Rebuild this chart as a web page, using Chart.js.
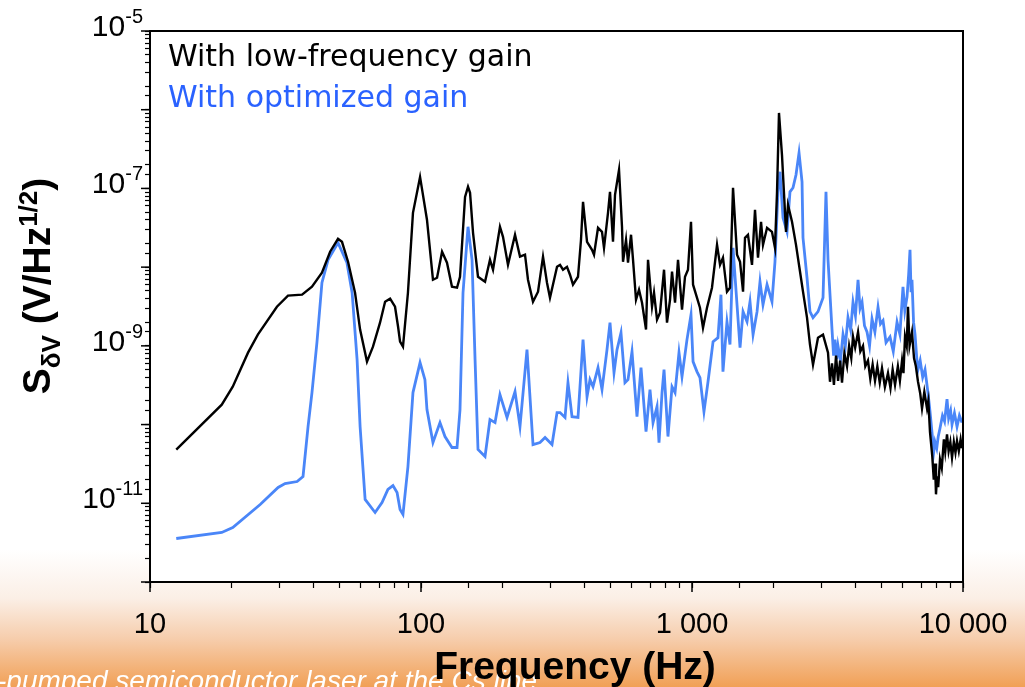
<!DOCTYPE html>
<html>
<head>
<meta charset="utf-8">
<script src="https://cdn.jsdelivr.net/npm/chart.js@4.4.1/dist/chart.umd.min.js"></script>
<style>
  html, body { margin: 0; padding: 0; background: #fff; }
  #wrap { width: 1025px; height: 687px; position: relative; overflow: hidden; }
  canvas { display: block; }
</style>
</head>
<body>
<div id="wrap"><canvas id="c" width="1025" height="687"></canvas></div>
<script>
// ---------------- DATA ----------------
const seriesLabels = ['With low-frequency gain', 'With optimized gain'];
const xTickValues = [10, 100, 1000, 10000];
const xTickLabels = ['10', '100', '1 000', '10 000'];
const yTickValues = [1e-5, 1e-7, 1e-9, 1e-11];
const yTickBase = '10';
const yTickExponents = ['-5', '-7', '-9', '-11'];
const xTitle = 'Frequency (Hz)';
const yTitleParts = ['S', '\u03B4V', ' (V/Hz', '1/2', ')'];
const footerText = '-pumped semiconductor laser at the Cs line';

// [frequency (Hz), S (V/Hz^1/2)]
const lowGainSeries = [
 [12.5,4.8e-11],[18.4,1.79e-10],[20.2,3.03e-10],[23.0,8.2e-10],[25.0,1.39e-9],[29.4,3.14e-9],[32.3,4.34e-9],
 [36.4,4.47e-9],[39.6,5.64e-9],[43.1,8.49e-9],[46.2,1.57e-8],[49.4,2.29e-8],[51.1,2.10e-8],[53.8,1.17e-8],
 [57.1,4.73e-9],[59.6,1.61e-9],[63.2,6.31e-10],[66.5,9.77e-10],[70.6,1.97e-9],[73.7,3.64e-9],[76.9,3.97e-9],
 [80.2,3.14e-9],[82.3,1.75e-9],[83.7,1.13e-9],[85.8,9.77e-10],[89.5,4.73e-9],[93.4,4.90e-8],[99.2,1.40e-7],
 [105.2,4.0e-8],[110.7,6.92e-9],[114.6,7.33e-9],[119.6,1.57e-8],[124.7,1.14e-8],[130.1,5.64e-9],[135.8,5.48e-9],
 [139.3,7.55e-9],[145.4,7.82e-8],[149.1,1.05e-7],[151.7,8.79e-8],[155.6,2.73e-8],[162.3,7.55e-9],[172.3,6.53e-9],
 [179.7,1.24e-8],[184.4,9.27e-9],[195.6,3.26e-8],[200.7,2.43e-8],[209.4,1.07e-8],[222.3,2.58e-8],[231.9,1.36e-8],
 [242.0,1.44e-8],[248.2,6.92e-9],[259.0,3.64e-9],[270.3,4.88e-9],[282.0,1.36e-8],[291.7,6.34e-9],[299.2,4.09e-9],
 [317.7,1.01e-8],[325.9,1.07e-8],[334.2,9.27e-9],[345.7,1.01e-8],[354.6,8.01e-9],[363.8,5.98e-9],[379.6,7.55e-9],
 [389.4,2.23e-8],[396.2,6.76e-8],[409.9,2.10e-8],[427.6,1.66e-8],[434.9,1.44e-8],[450,3.16e-8],[465.5,2.81e-8],
 [473.5,1.76e-8],[489.8,4.90e-8],[498.2,9.06e-8],[511.1,2.10e-8],[519.9,8.30e-8],[537.9,1.72e-7],[551.7,3.26e-8],
 [556.5,1.17e-8],[570.9,2.23e-8],[580.6,1.14e-8],[595.7,2.58e-8],[605.9,1.24e-8],[621.5,3.85e-9],[637.5,5.16e-9],
 [654,3.53e-9],[676.6,1.61e-9],[688.2,1.24e-8],[712,3.14e-9],[724.2,4.73e-9],[742.9,2.15e-9],[762.1,2.64e-9],
 [788.5,9.27e-9],[808.7,1.97e-9],[829.7,3.85e-9],[843.9,8.75e-9],[865.8,3.53e-9],[888,1.24e-8],[918.6,2.88e-9],
 [942.3,7.55e-9],[966.5,9.27e-9],[991.5,3.77e-8],[1009,5.98e-9],[1043,4.09e-9],[1070,3.05e-9],[1098,1.70e-9],
 [1136,3.05e-9],[1185,5.48e-9],[1237,1.92e-8],[1269,1.07e-8],[1301,1.32e-8],[1346,4.88e-9],[1381,5.48e-9],
 [1417,1.02e-7],[1466,1.44e-8],[1504,1.17e-8],[1543,4.88e-9],[1569,2.36e-8],[1609,2.58e-8],[1665,1.07e-8],
 [1708,5.35e-8],[1752,1.32e-8],[1798,3.77e-8],[1828,1.92e-8],[1892,3.16e-8],[1973,2.81e-8],[2024,1.76e-8],
 [2059,8.79e-8],[2094,9.1e-7],[2148,2.67e-7],[2167,1.49e-7],[2223,2.81e-8],[2261,6.19e-8],[2339,3.77e-8],
 [2420,1.92e-8],[2504,8.75e-9],[2568,4.88e-9],[2657,2.28e-9],[2725,1.04e-9],[2796,5.77e-10],[2917,1.27e-9],
 [3044,1.39e-9],[3176,8.2e-10],[3230,3.5e-10],[3286,6.0e-10],[3340,3.2e-10],[3400,7.5e-10],[3460,3.6e-10],
 [3520,6.5e-10],[3577,3.4e-10],[3650,8.0e-10],[3733,5.5e-10],[3800,1.0e-9],[3870,7.0e-10],[3928,1.31e-9],
 [4000,9.5e-10],[4099,1.5e-9],[4180,8.5e-10],[4276,1.0e-9],[4360,5.5e-10],[4460,6.5e-10],[4550,3.8e-10],
 [4640,5.8e-10],[4735,3.6e-10],[4830,5.5e-10],[4930,3.4e-10],[5025,5.2e-10],[5150,3.0e-10],[5287,4.5e-10],
 [5400,2.9e-10],[5500,5.0e-10],[5613,3.2e-10],[5750,5.5e-10],[5850,3.6e-10],[5957,6.5e-10],[6030,4.5e-10],
 [6110,1.31e-9],[6200,1.0e-9],[6266,3.14e-9],[6350,1.0e-9],[6483,1.5e-9],[6595,7.0e-10],[6700,5.5e-10],
 [6823,3.5e-10],[6950,2.5e-10],[7060,1.6e-10],[7200,2.6e-10],[7366,1.6e-10],[7450,2.0e-10],[7555,8.0e-11],
 [7700,4.0e-11],[7800,2.0e-11],[7883,3.2e-11],[7950,1.3e-11],[8017,2.2e-11],[8100,1.6e-11],[8225,3.6e-11],
 [8350,2.8e-11],[8500,6.5e-11],[8600,4.5e-11],[8730,7.5e-11],[8850,4.6e-11],[8980,6.0e-11],[9109,3.8e-11],
 [9250,6.0e-11],[9380,4.4e-11],[9504,6.2e-11],[9650,4.6e-11],[9800,6.5e-11],[9915,5.0e-11]
];

const optimizedGainSeries = [
 [12.5,3.57e-12],[18.4,4.26e-12],[20.2,4.93e-12],[25.5,9.66e-12],[29.7,1.59e-11],[31.5,1.78e-11],[34.9,1.89e-11],
 [36.7,2.19e-11],[38.3,9.44e-11],[39.6,2.55e-10],[41.3,1.10e-9],[43.1,6.34e-9],[45.4,1.24e-8],[49.4,2.04e-8],
 [53.3,1.14e-8],[55.7,4.73e-9],[58.1,6.68e-10],[59.6,9.44e-11],[62.2,1.12e-11],[67.7,7.64e-12],[71.8,1.02e-11],
 [75.5,1.50e-11],[78.8,1.68e-11],[81.6,1.37e-11],[83.7,8.34e-12],[85.8,7.21e-12],[89.5,2.93e-11],[93.4,2.55e-10],
 [99.2,6.12e-10],[103.4,3.72e-10],[105.2,1.55e-10],[110.7,5.91e-11],[117.5,1.06e-10],[122.6,7.05e-11],[130.1,5.11e-11],
 [135.8,5.11e-11],[139.3,1.55e-10],[142.9,4.73e-9],[149.1,3.26e-8],[154.3,1.24e-8],[158.3,6.68e-10],[162.3,4.82e-11],
 [172.3,3.93e-11],[179.7,1.16e-10],[187.6,1.06e-10],[195.6,2.40e-10],[207.7,1.23e-10],[222.3,2.62e-10],[231.9,9.44e-11],
 [246.1,8.95e-10],[259.0,5.57e-11],[274.9,5.91e-11],[286.9,6.84e-11],[304.4,5.57e-11],[317.7,1.42e-10],[325.9,1.42e-10],
 [340.0,1.23e-10],[348.6,3.41e-10],[360.8,1.26e-10],[379.6,1.23e-10],[396.2,1.20e-9],[409.9,2.26e-10],[420.3,3.72e-10],
 [431.3,3.03e-10],[450,5.29e-10],[465.5,2.78e-10],[485.7,8.95e-10],[498.2,1.97e-9],[515.5,4.57e-10],[528.8,8.95e-10],
 [547,1.47e-9],[565.8,3.41e-10],[580.6,3.72e-10],[600.7,8.44e-10],[626.6,1.26e-10],[648.4,5.29e-10],[676.6,8.15e-11],
 [699.8,2.78e-10],[718.1,1.06e-10],[742.9,1.69e-10],[755.6,5.91e-11],[775.2,2.55e-10],[788.5,4.99e-10],[815.4,7.05e-11],
 [843.9,3.03e-10],[865.8,2.55e-10],[895.4,8.2e-10],[918.6,4.07e-10],[958.3,1.20e-9],[991.5,2.49e-9],[1009,6.31e-10],
 [1043,4.71e-10],[1070,3.95e-10],[1107,1.46e-10],[1146,3.52e-10],[1196,1.13e-9],[1247,1.27e-9],[1279,4.47e-9],
 [1301,4.71e-10],[1346,2.03e-9],[1381,1.04e-9],[1417,1.76e-8],[1466,3.33e-9],[1504,9.49e-10],[1543,2.72e-9],
 [1596,2.03e-9],[1637,3.64e-9],[1680,1.39e-9],[1738,2.72e-9],[1782,6.53e-9],[1828,3.33e-9],[1892,5.98e-9],
 [1973,3.64e-9],[2024,1.17e-8],[2076,9.06e-8],[2112,1.63e-7],[2167,4.24e-8],[2242,2.81e-8],[2299,9.06e-8],
 [2359,1.02e-7],[2420,1.49e-7],[2483,2.83e-7],[2547,1.21e-7],[2568,2.36e-8],[2657,7.33e-9],[2725,2.72e-9],
 [2796,2.28e-9],[2917,2.72e-9],[3044,4.09e-9],[3122,9.06e-8],[3176,1.24e-8],[3286,1.61e-9],[3330,7.5e-10],
 [3371,1.2e-9],[3420,6.8e-10],[3457,1.0e-9],[3530,6.5e-10],[3608,1.4e-9],[3680,1.0e-9],[3764,2.3e-9],
 [3850,1.6e-9],[3928,3.6e-9],[4010,2.4e-9],[4099,6.9e-9],[4170,3.0e-9],[4241,3.6e-9],[4330,1.8e-9],
 [4424,1.5e-9],[4520,1.0e-9],[4616,2.2e-9],[4730,1.5e-9],[4858,3.1e-9],[4960,1.9e-9],[5069,2.1e-9],
 [5200,1.1e-9],[5379,1.3e-9],[5530,8.5e-10],[5709,2.0e-9],[5850,1.4e-9],[6006,5.6e-9],[6100,2.8e-9],
 [6215,4.2e-9],[6300,8.0e-9],[6375,1.66e-8],[6430,5.0e-9],[6483,6.9e-9],[6570,2.0e-9],[6653,1.4e-9],
 [6750,7.0e-10],[6823,5.0e-10],[6950,6.5e-10],[7100,4.0e-10],[7242,5.0e-10],[7429,2.5e-10],[7550,1.5e-10],
 [7685,7.9e-11],[7800,4.5e-11],[7883,6.0e-11],[8000,5.0e-11],[8100,7.0e-11],[8225,9.0e-11],[8400,1.3e-10],
 [8550,1.1e-10],[8730,2.1e-10],[8850,1.2e-10],[9000,1.5e-10],[9109,1.0e-10],[9300,1.4e-10],[9504,9.4e-11],
 [9700,1.3e-10],[9915,1.06e-10]
];

// ---------------- STYLE ----------------
const FONT = "'Liberation Sans', Arial, Helvetica, sans-serif";
const LEGEND_FONT = "'DejaVu Sans', Verdana, sans-serif";
const lowColor = '#000000';
const optColor = '#4a86f8';
const optTextColor = '#2a62ff';

Chart.defaults.font.family = FONT;
Chart.defaults.color = '#000';

function matchIndex(values, v) {
  for (let i = 0; i < values.length; i++) {
    if (Math.abs(Math.log10(v) - Math.log10(values[i])) < 1e-6) return i;
  }
  return -1;
}
function isDecade(v) {
  const l = Math.log10(v);
  return Math.abs(l - Math.round(l)) < 1e-6;
}

const decorPlugin = {
  id: 'decor',
  beforeDraw(chart) {
    const ctx = chart.ctx, W = chart.width, H = chart.height, ca = chart.chartArea;
    ctx.save();
    ctx.fillStyle = '#ffffff';
    ctx.fillRect(0, 0, W, H);
    const g = ctx.createLinearGradient(0, 550, 0, H);
    g.addColorStop(0, '#ffffff');
    g.addColorStop(0.35, '#fbefe6');
    g.addColorStop(0.65, '#f6cdac');
    g.addColorStop(1, '#f1a056');
    ctx.fillStyle = g;
    ctx.fillRect(0, 550, W, H - 550);
    ctx.fillStyle = '#ffffff';
    ctx.fillRect(ca.left, ca.top, ca.right - ca.left, ca.bottom - ca.top);
    // footer text (behind the axis title)
    ctx.font = 'italic 28px ' + FONT;
    ctx.fillStyle = '#ffffff';
    ctx.textBaseline = 'alphabetic';
    ctx.textAlign = 'left';
    ctx.fillText(footerText, -3, 690);
    ctx.restore();
  },
  afterDraw(chart) {
    const ctx = chart.ctx, ca = chart.chartArea;
    const xs = chart.scales.x, ys = chart.scales.y;
    ctx.save();
    // frame top / right
    ctx.strokeStyle = '#000';
    ctx.lineWidth = 2;
    ctx.beginPath();
    ctx.moveTo(ca.left, ca.top);
    ctx.lineTo(ca.right, ca.top);
    ctx.lineTo(ca.right, ca.bottom);
    ctx.stroke();
    // longer decade ticks
    ctx.lineWidth = 1.5;
    xs.ticks.forEach(t => {
      if (isDecade(t.value)) {
        const px = xs.getPixelForValue(t.value);
        ctx.beginPath(); ctx.moveTo(px, ca.bottom); ctx.lineTo(px, ca.bottom + 10); ctx.stroke();
      }
    });
    ys.ticks.forEach(t => {
      if (isDecade(t.value)) {
        const py = ys.getPixelForValue(t.value);
        ctx.beginPath(); ctx.moveTo(ca.left, py); ctx.lineTo(ca.left - 9, py); ctx.stroke();
      }
    });
    // y tick labels: 10 with superscript exponent
    ctx.fillStyle = '#000';
    ctx.textBaseline = 'alphabetic';
    ctx.textAlign = 'left';
    yTickValues.forEach((v, i) => {
      const py = ys.getPixelForValue(v);
      ctx.font = '20px ' + FONT;
      const we = ctx.measureText(yTickExponents[i]).width;
      ctx.font = '30px ' + FONT;
      const wb = ctx.measureText(yTickBase).width;
      const right = ca.left - 7;
      ctx.fillText(yTickBase, right - we - wb, py + 5);
      ctx.font = '20px ' + FONT;
      ctx.fillText(yTickExponents[i], right - we, py - 8);
    });
    // x axis title
    ctx.font = 'bold 39px ' + FONT;
    ctx.textAlign = 'center';
    ctx.fillText(xTitle, 575, 679);
    // legend text
    ctx.textAlign = 'left';
    ctx.font = '30px ' + LEGEND_FONT;
    ctx.fillStyle = lowColor;
    ctx.fillText(chart.data.datasets[0].label, ca.left + 18, 66);
    ctx.fillStyle = optTextColor;
    ctx.fillText(chart.data.datasets[1].label, ca.left + 18, 107);
    // y axis title with sub/superscripts
    const parts = [
      { t: yTitleParts[0], f: 'bold 39px ' + FONT, dy: 0 },
      { t: yTitleParts[1], f: 'bold 26px ' + FONT, dy: 10 },
      { t: yTitleParts[2], f: 'bold 39px ' + FONT, dy: 0 },
      { t: yTitleParts[3], f: 'bold 26px ' + FONT, dy: -13 },
      { t: yTitleParts[4], f: 'bold 39px ' + FONT, dy: 0 }
    ];
    let total = 0;
    parts.forEach(p => { ctx.font = p.f; p.w = ctx.measureText(p.t).width; total += p.w; });
    ctx.translate(50, 286);
    ctx.rotate(-Math.PI / 2);
    ctx.fillStyle = '#000';
    let x = -total / 2;
    parts.forEach(p => { ctx.font = p.f; ctx.fillText(p.t, x, p.dy); x += p.w; });
    ctx.restore();
  }
};

const ctx = document.getElementById('c').getContext('2d');
new Chart(ctx, {
  type: 'line',
  data: {
    datasets: [
      {
        label: seriesLabels[0],
        data: lowGainSeries.map(p => ({ x: p[0], y: p[1] })),
        borderColor: lowColor,
        borderWidth: 2.4,
        pointRadius: 0,
        tension: 0,
        fill: false
      },
      {
        label: seriesLabels[1],
        data: optimizedGainSeries.map(p => ({ x: p[0], y: p[1] })),
        borderColor: optColor,
        borderWidth: 2.8,
        pointRadius: 0,
        tension: 0,
        fill: false
      }
    ]
  },
  options: {
    responsive: false,
    animation: false,
    devicePixelRatio: 1,
    layout: { padding: { top: 31, right: 62, left: 0, bottom: 0 } },
    plugins: { legend: { display: false }, tooltip: { enabled: false } },
    scales: {
      x: {
        type: 'logarithmic',
        position: 'bottom',
        min: 10,
        max: 10000,
        afterFit(scale) { scale.height = 105; scale.paddingRight = 0; scale.paddingLeft = 0; },
        border: { display: true, color: '#000', width: 2 },
        grid: { display: true, drawOnChartArea: false, drawTicks: true, tickLength: 6, color: '#000', tickColor: '#000', tickWidth: 1.2 },
        ticks: {
          autoSkip: false,
          maxRotation: 0,
          minRotation: 0,
          padding: 20,
          color: '#000',
          font: { size: 29, family: FONT },
          callback(v) { const i = matchIndex(xTickValues, v); return i >= 0 ? xTickLabels[i] : ''; }
        },
        title: { display: false, text: xTitle }
      },
      y: {
        type: 'logarithmic',
        position: 'left',
        min: 1e-12,
        max: 1e-5,
        afterFit(scale) { scale.width = 150; scale.paddingTop = 0; scale.paddingBottom = 0; },
        border: { display: true, color: '#000', width: 2 },
        grid: { display: true, drawOnChartArea: false, drawTicks: true, tickLength: 5, color: '#000', tickColor: '#000', tickWidth: 1.2 },
        ticks: {
          autoSkip: false,
          padding: 2,
          color: '#000',
          font: { size: 28, family: FONT },
          callback() { return ''; }
        }
      }
    }
  },
  plugins: [decorPlugin]
});
</script>
</body>
</html>
